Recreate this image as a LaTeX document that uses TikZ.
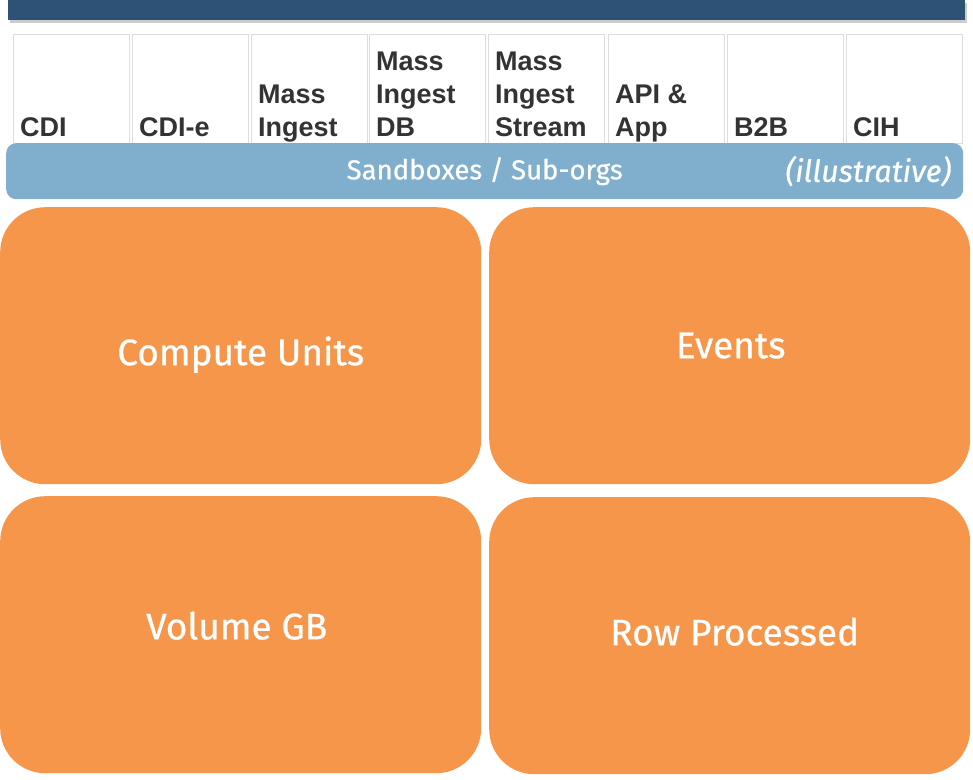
\documentclass[tikz,border=0pt]{standalone}
\usepackage{fontspec}
\setmainfont{Liberation Sans}
\newfontfamily\labelfont[FakeBold=0.6]{Fira Sans}
\usetikzlibrary{positioning,shadows}
\definecolor{barblue}{HTML}{2E5276}
\definecolor{sandblue}{HTML}{7FAFCC}
\definecolor{metricorange}{HTML}{F5964A}
\definecolor{headgray}{HTML}{333333}
\definecolor{cellgray}{HTML}{DDDDDD}

\tikzset{
  cell/.style={draw=cellgray, line width=1pt, minimum width=116pt, minimum height=109pt, anchor=north west, inner sep=0pt},
  head/.style={anchor=south west, align=left, inner sep=0pt, text depth=0pt, text=headgray, font=\fontsize{27}{33}\selectfont\bfseries},
  metric/.style={fill=metricorange, rounded corners=45pt, minimum width=481pt, minimum height=277pt, anchor=north west, inner sep=0pt},
  metrictext/.style={text=white, font=\labelfont\fontsize{37}{44}\selectfont}
}

\begin{document}
\begin{tikzpicture}[x=1pt, y=-1pt]
   \useasboundingbox (0,0) rectangle (973,779);
   % title bar
   \node (topbar) [fill=barblue, minimum width=957pt, minimum height=20pt, anchor=north west, inner sep=0pt,
        drop shadow={opacity=0.4, shadow xshift=2pt, shadow yshift=-3pt}] at (8,0) {};
   % header cells
   \foreach \nm/\x/\txt in {cdi/13/{CDI}, cdie/132/{CDI-e}, mass/251/{Mass\\Ingest}, massdb/369/{Mass\\Ingest\\DB},
        massstream/488/{Mass\\Ingest\\Stream}, api/608/{API \&\\App}, btob/727/{B2B}, cih/846/{CIH}} {
     \node (\nm) [cell] at (\x,34) {};
     \node (\nm-txt) [head] at ([xshift=7pt, yshift=7pt]\nm.south west) {\txt};
   }
   % sandboxes
   \node (sandbox) [fill=sandblue, rounded corners=10pt, minimum width=957pt, minimum height=56pt, anchor=north west,
        inner sep=0pt, text=white, font=\labelfont\fontsize{27.5}{32}\selectfont] at (6,143) {Sandboxes / Sub-orgs};
   \node (illus) [left=12pt of sandbox.east, inner sep=0pt, text=white, font=\labelfont\itshape\fontsize{30.5}{36}\selectfont] {(illustrative)};
   % metrics
   \node (compute) [metric] at (0,207) {};
   \node (events)  [metric] at (489,207) {};
   \node (volume)  [metric] at (0,496) {};
   \node (rows)    [metric] at (489,497) {};
   \node (compute-txt) [metrictext] at ([yshift=-9pt]compute.center) {Compute Units};
   \node (events-txt)  [metrictext] at ([xshift=1pt]events.center) {Events};
   \node (volume-txt)  [metrictext] at ([xshift=-4pt, yshift=9pt]volume.center) {Volume GB};
   \node (rows-txt)    [metrictext] at ([xshift=5pt, yshift=4pt]rows.center) {Row Processed};
\end{tikzpicture}
\end{document}
